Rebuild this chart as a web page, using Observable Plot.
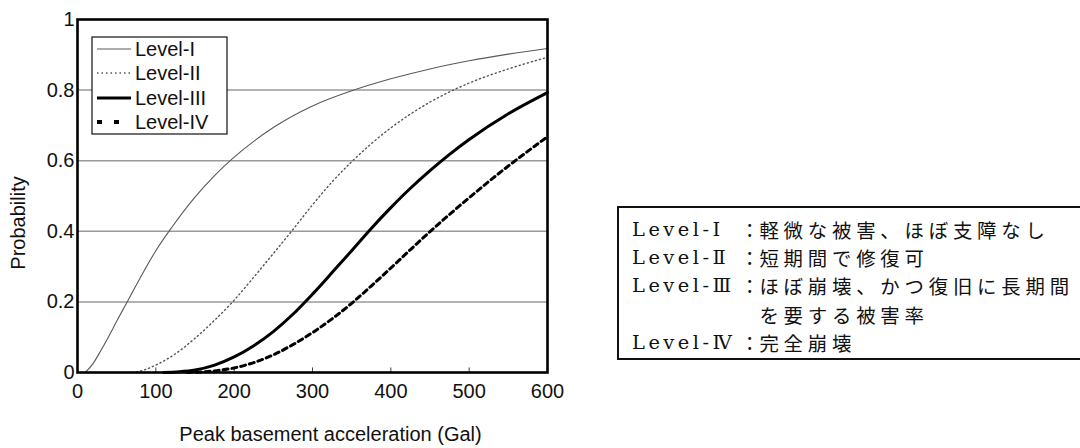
<!DOCTYPE html>
<html>
<head>
<meta charset="utf-8">
<script src="https://cdn.jsdelivr.net/npm/d3@7"></script>
<script src="https://cdn.jsdelivr.net/npm/@observablehq/plot@0.6"></script>
<style>
  html, body { margin: 0; padding: 0; background: #fff; }
  #wrap { position: relative; width: 1080px; height: 448px; overflow: hidden; }
  #chart { position: absolute; left: 0; top: 0; }
  #legend { position: absolute; left: 0; top: 0; pointer-events: none; }
  #note {
    position: absolute; left: 617px; top: 206px; width: 480px; height: 154px;
    border: 2px solid #111; box-sizing: border-box; padding: 8px 0 0 13px;
    font-size: 19.4px; line-height: 28.2px; color: #111;
    font-family: "Noto Sans CJK JP", sans-serif;
  }
  .row { display: flex; white-space: nowrap; height: 28.2px; }
  .lab { width: 108px; flex: none; font-family: "DejaVu Serif", "Noto Sans CJK JP", serif; letter-spacing: 3.5px; }
  .col { width: 19.4px; flex: none; text-align: center; }
  .txt { letter-spacing: 4.8px; }
</style>
</head>
<body>
<div id="wrap">
  <div id="chart"></div>
  <svg id="legend" width="600" height="448"></svg>
  <div id="note"></div>
</div>
<script>
// ---- data ----
const seriesNames = ["Level-I", "Level-II", "Level-III", "Level-IV"];
const levelI = [[10,0],[20,0.026],[30,0.063],[40,0.103],[50,0.145],[60,0.186],[80,0.268],[100,0.345],[120,0.41],[150,0.497],[175,0.558],[200,0.61],[250,0.694],[300,0.755],[350,0.798],[400,0.832],[450,0.86],[500,0.883],[550,0.902],[600,0.918]];
const levelII = [[70,0],[80,0.004],[90,0.011],[100,0.021],[125,0.053],[150,0.097],[175,0.148],[200,0.205],[225,0.27],[250,0.337],[275,0.405],[300,0.475],[325,0.54],[350,0.597],[375,0.648],[400,0.693],[425,0.732],[450,0.766],[475,0.795],[500,0.82],[550,0.86],[600,0.893]];
const levelIII = [[110,0],[130,0.002],[150,0.007],[175,0.021],[200,0.044],[225,0.076],[250,0.116],[275,0.165],[300,0.222],[325,0.283],[350,0.345],[375,0.408],[400,0.467],[425,0.522],[450,0.572],[475,0.618],[500,0.66],[550,0.733],[600,0.793]];
const levelIV = [[140,0],[160,0.002],[180,0.006],[200,0.013],[225,0.028],[250,0.05],[275,0.079],[300,0.113],[325,0.152],[350,0.196],[375,0.245],[400,0.296],[425,0.348],[450,0.399],[475,0.448],[500,0.495],[525,0.541],[550,0.585],[575,0.627],[600,0.668]];
const xTicks = [0, 100, 200, 300, 400, 500, 600];
const yTicks = [0, 0.2, 0.4, 0.6, 0.8, 1];
const yTickLabels = ["0", "0.2", "0.4", "0.6", "0.8", "1"];
const gridY = [0.2, 0.4, 0.6, 0.8];
const innerTicks = [100, 200, 300, 400, 500];
const xTitle = "Peak basement acceleration (Gal)";
const yTitle = "Probability";
const noteLabels = ["Level-Ⅰ", "Level-Ⅱ", "Level-Ⅲ", "", "Level-Ⅳ"];
const noteTexts = ["軽微な被害、ほぼ支障なし", "短期間で修復可", "ほぼ崩壊、かつ復旧に長期間", "を要する被害率", "完全崩壊"];

// ---- styles ----
const styles = [
  {stroke: "#5a5a5a", strokeWidth: 1.1, dash: null, legendDash: null},
  {stroke: "#555", strokeWidth: 1.4, dash: "1.2,3", legendDash: "1.5,3"},
  {stroke: "#000", strokeWidth: 3, dash: null, legendDash: null},
  {stroke: "#000", strokeWidth: 3, dash: "5,4", legendDash: "5,12"}
];
const allSeries = [levelI, levelII, levelIII, levelIV];

const font = "Liberation Sans, Arial, sans-serif";

const lineMarks = allSeries.map((s, i) => Plot.line(s, {
  x: d => d[0], y: d => d[1], curve: "monotone-x",
  stroke: styles[i].stroke, strokeWidth: styles[i].strokeWidth,
  strokeDasharray: styles[i].dash || undefined
}));

const chart = Plot.plot({
  width: 600, height: 448,
  marginLeft: 77, marginRight: 53, marginTop: 19, marginBottom: 76,
  style: {fontFamily: font, fontSize: "20px", color: "#111", background: "transparent"},
  x: {domain: [0, 600]},
  y: {domain: [0, 1]},
  marks: [
    Plot.ruleY(gridY, {stroke: "#9a9a9a", strokeWidth: 1.5}),
    Plot.ruleX(innerTicks, {y1: 0, y2: 0.013, stroke: "#444", strokeWidth: 1}),
    ...lineMarks,
    Plot.frame({stroke: "#000", strokeWidth: 2.6}),
    Plot.axisX({ticks: xTicks, tickSize: 0, tickPadding: 11, label: null, fontSize: 20}),
    Plot.axisY({ticks: yTicks, tickFormat: d => yTickLabels[yTicks.indexOf(d)], tickSize: 0, tickPadding: 3, label: null, fontSize: 20}),
    Plot.text([xTitle], {frameAnchor: "bottom", text: d => d, dx: 18, dy: 68, textAnchor: "middle", fontSize: 20, fill: "#111"}),
    Plot.text([yTitle], {frameAnchor: "left", text: d => d, rotate: -90, dx: -59, dy: 27, textAnchor: "middle", fontSize: 20, fill: "#111"})
  ]
});
document.getElementById("chart").appendChild(chart);

// ---- legend inside the plot ----
const lg = d3.select("#legend");
lg.append("rect").attr("x", 92).attr("y", 37).attr("width", 135).attr("height", 97)
  .attr("fill", "#fff").attr("stroke", "#111").attr("stroke-width", 1.2);
const rowY = [49, 73, 98, 122];
seriesNames.forEach((name, i) => {
  const l = lg.append("line").attr("x1", 97).attr("x2", 131).attr("y1", rowY[i]).attr("y2", rowY[i])
    .attr("stroke", styles[i].stroke).attr("stroke-width", styles[i].strokeWidth + (i === 3 ? 1 : 0));
  if (styles[i].legendDash) l.attr("stroke-dasharray", styles[i].legendDash);
  lg.append("text").attr("x", 135).attr("y", rowY[i]).attr("dy", "0.35em")
    .attr("font-family", font).attr("font-size", 20).attr("fill", "#111").text(name);
});

// ---- description box ----
const note = d3.select("#note");
noteTexts.forEach((t, i) => {
  const r = note.append("div").attr("class", "row");
  r.append("span").attr("class", "lab").text(noteLabels[i]);
  r.append("span").attr("class", "col").text(noteLabels[i] ? "：" : "");
  r.append("span").attr("class", "txt").text(t);
});
</script>
</body>
</html>
